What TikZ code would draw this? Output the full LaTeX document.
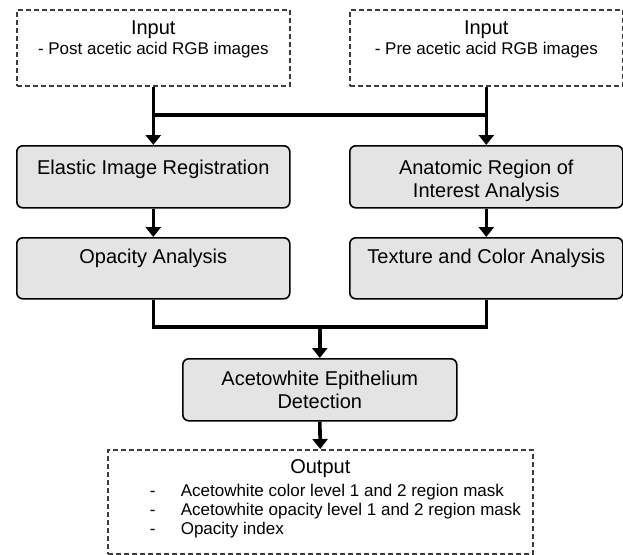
\documentclass[tikz,border=0pt]{standalone}
\usepackage{fontspec}
\setmainfont{Liberation Sans}
\usetikzlibrary{arrows.meta}

\definecolor{boxfill}{RGB}{228,228,228}
\definecolor{dashgray}{RGB}{60,60,60}

% text laid out from the top of a box of fixed size
\newcommand{\topbox}[4]{\parbox[t][#2][t]{#1}{\centering\fontsize{20}{23}\selectfont\rule{0pt}{#3}#4}}

\tikzset{
  procbox/.style={draw=black, line width=1.6pt, fill=boxfill, rounded corners=6pt,
                  inner sep=0pt, anchor=north west},
  iobox/.style={draw=dashgray, line width=1.6pt, dash pattern=on 5pt off 3pt,
                inner sep=0pt, anchor=north west},
  link/.style={line width=3.6pt, line join=miter},
  flow/.style={link, -{Triangle[width=15pt,length=10pt]}}
}

\begin{document}
\begin{tikzpicture}[x=1pt, y=-1pt]
\useasboundingbox (0,0) rectangle (623,554);

% inputs
\node[iobox] (inpost) at (16,9) {\parbox[t][76pt][t]{273pt}{\centering
  {\fontsize{20}{24}\selectfont\rule{0pt}{25pt}Input\par}
  {\fontsize{17}{20}\selectfont - Post acetic acid RGB images\par}}};
\node[iobox] (inpre) at (349,9) {\parbox[t][76pt][t]{273pt}{\centering
  {\fontsize{20}{24}\selectfont\rule{0pt}{25pt}Input\par}
  {\fontsize{17}{20}\selectfont - Pre acetic acid RGB images\par}}};

% processing steps
\node[procbox] (reg) at (16,145) {\topbox{273pt}{62pt}{29pt}{Elastic Image Registration}};
\node[procbox] (roi) at (349,145) {\topbox{273pt}{62pt}{29pt}{Anatomic Region of\\Interest Analysis}};
\node[procbox] (opa) at (16,237) {\topbox{273pt}{61pt}{26pt}{Opacity Analysis}};
\node[procbox] (tex) at (349,237) {\topbox{273pt}{61pt}{26pt}{Texture and Color Analysis}};
\node[procbox] (det) at (182,358) {\topbox{274pt}{62pt}{27pt}{Acetowhite Epithelium\\Detection}};

% output
\node[iobox] (out) at (107,449) {\parbox[t][104pt][t]{425pt}{%
  \centering{\fontsize{20}{24}\selectfont\rule{0pt}{24pt}Output\par}
  \vspace{4pt}%
  \raggedright\fontsize{17}{19}\selectfont
  \hspace*{42pt}\makebox[31pt][l]{-}Acetowhite color level 1 and 2 region mask\par
  \hspace*{42pt}\makebox[31pt][l]{-}Acetowhite opacity level 1 and 2 region mask\par
  \hspace*{42pt}\makebox[31pt][l]{-}Opacity index\par}};

% junction points
\coordinate (jl) at (inpost.south |- 0,115);
\coordinate (jr) at (inpre.south |- 0,115);
\coordinate (mg) at (det.north |- 0,327);

% connectors
\draw[flow] (inpost.south) -- (reg.north);
\draw[flow] (inpre.south) -- (roi.north);
\draw[link] (jl) -- (jr);
\draw[flow] (reg.south) -- (opa.north);
\draw[flow] (roi.south) -- (tex.north);
\draw[link] (opa.south) |- (mg) -| (tex.south);
\draw[flow] (mg) -- (det.north);
\draw[flow] (det.south) -- (out.north);
\end{tikzpicture}
\end{document}
